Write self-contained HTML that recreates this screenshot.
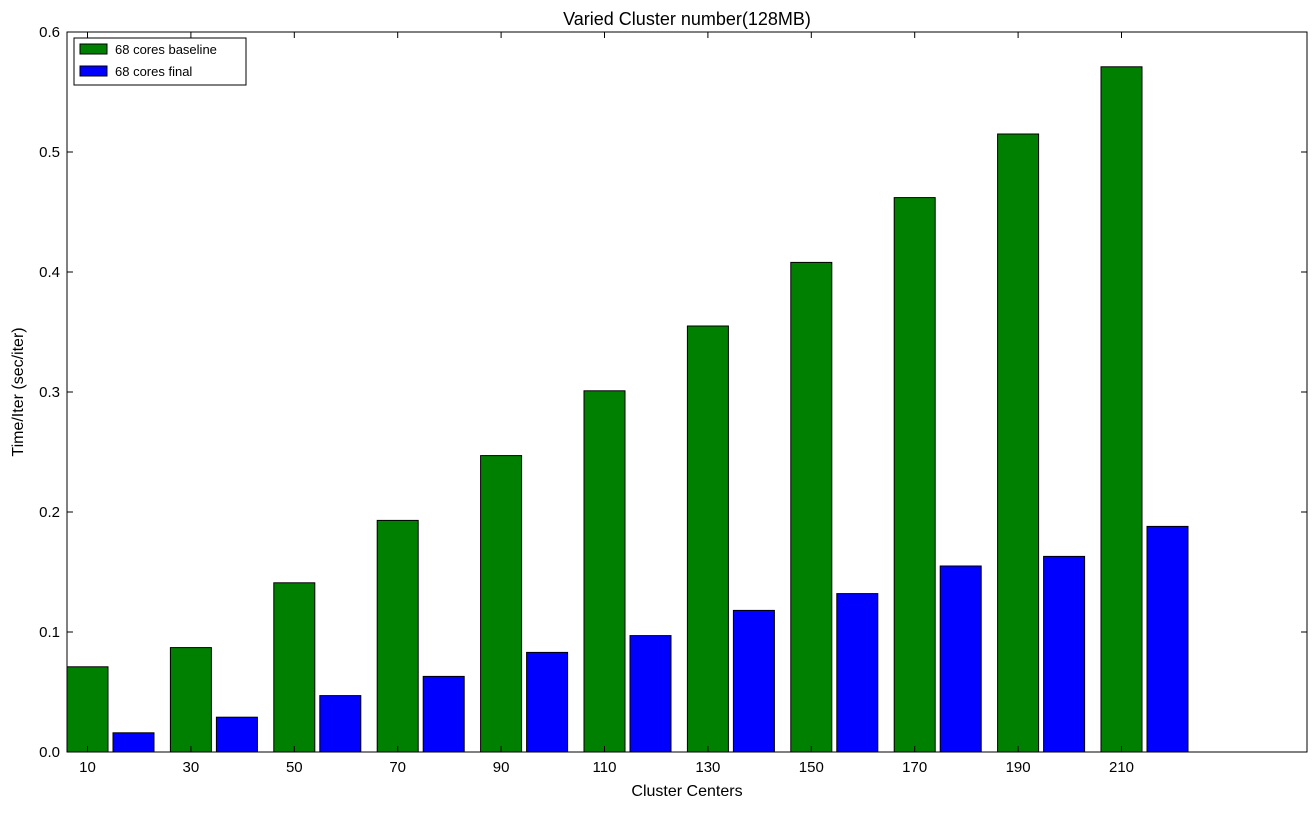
<!DOCTYPE html>
<html><head><meta charset="utf-8"><style>
body{margin:0;background:#fff;}
svg text{font-family:"Liberation Sans","DejaVu Sans",sans-serif;}
</style></head><body>
<svg id="chart" width="1316" height="810" xmlns="http://www.w3.org/2000/svg">
<rect width="1316" height="810" fill="#fff"/>
<g id="marks"></g>
<rect x="67" y="32" width="1240" height="720" fill="none" stroke="#000" stroke-width="1"/>
<g id="axes"></g>
<text x="687" y="25" font-size="18" text-anchor="middle">Varied Cluster number(128MB)</text>
<text x="687" y="796" font-size="16" text-anchor="middle">Cluster Centers</text>
<text transform="translate(23,392) rotate(-90)" font-size="16" text-anchor="middle">Time/Iter (sec/iter)</text>
<g>
<rect x="74" y="38" width="172" height="47" fill="#fff" stroke="#000"/>
<rect x="80" y="44" width="27" height="10" fill="#008000" stroke="#000"/>
<text x="115" y="54" font-size="13">68 cores baseline</text>
<rect x="80" y="66" width="27" height="10" fill="#0000ff" stroke="#000"/>
<text x="115" y="76" font-size="13">68 cores final</text>
</g>
</svg>
<script>
const categories=[10,30,50,70,90,110,130,150,170,190,210];
const baseline=[0.071,0.087,0.141,0.193,0.247,0.301,0.355,0.408,0.462,0.515,0.571];
const finalVals=[0.016,0.029,0.047,0.063,0.083,0.097,0.118,0.132,0.155,0.163,0.188];
const yTicks=[0,0.1,0.2,0.3,0.4,0.5,0.6];
const NS="http://www.w3.org/2000/svg";
const x0=67,step=103.4,bw=41,gap=46;
function xs(i){return x0+i*step;}
function ys(v){return 752-v*1200;}
const marks=document.getElementById('marks'),axes=document.getElementById('axes');
function mk(tag,attrs,parent){const e=document.createElementNS(NS,tag);for(const k in attrs)e.setAttribute(k,attrs[k]);parent.appendChild(e);return e;}
categories.forEach((c,i)=>{
  const g=mk('rect',{x:xs(i),y:ys(baseline[i]),width:bw,height:752-ys(baseline[i]),fill:'#008000',stroke:'#000'},marks);
  
  
  const b=mk('rect',{x:xs(i)+gap,y:ys(finalVals[i]),width:bw,height:752-ys(finalVals[i]),fill:'#0000ff',stroke:'#000'},marks);
  
  
  const tx=xs(i)+20.5;
  mk('line',{x1:tx,x2:tx,y1:752,y2:746,stroke:'#000'},axes);
  mk('line',{x1:tx,x2:tx,y1:32,y2:38,stroke:'#000'},axes);
  const t=mk('text',{x:tx,y:772,'font-size':15,'text-anchor':'middle'},axes);
  t.textContent=c;
  
  
});
yTicks.forEach(v=>{
  const y=ys(v);
  mk('line',{x1:67,x2:73,y1:y,y2:y,stroke:'#000'},axes);
  mk('line',{x1:1301,x2:1307,y1:y,y2:y,stroke:'#000'},axes);
  const t=mk('text',{x:60,y:y+5,'font-size':15,'text-anchor':'end'},axes);
  t.textContent=v.toFixed(1);
  
  
});
</script>
</body></html>
